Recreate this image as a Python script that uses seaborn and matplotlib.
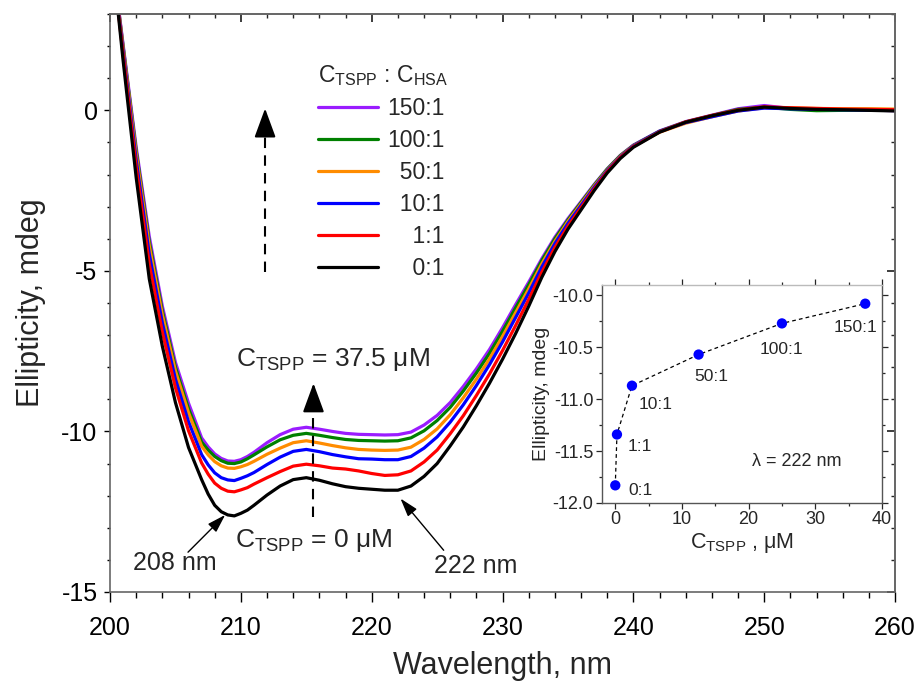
import numpy as np
import pandas as pd
import matplotlib
matplotlib.use("Agg")
import matplotlib.pyplot as plt
from matplotlib.lines import Line2D
from matplotlib.ticker import MultipleLocator, FormatStrFormatter
import seaborn as sns

sns.set_theme(style="ticks")
plt.rcParams["font.family"] = ["Liberation Sans", "DejaVu Sans"]
plt.rcParams["axes.unicode_minus"] = False
plt.rcParams["mathtext.fontset"] = "custom"
plt.rcParams["mathtext.rm"] = "Liberation Sans"
plt.rcParams["mathtext.it"] = "Liberation Sans:italic"

# ---------------- data ----------------
wavelength = [200.4, 201, 202, 203, 204, 205, 206, 207, 207.5, 208, 208.5, 209, 209.5, 210, 210.5,
              211, 212, 213, 214, 215, 216, 217, 218, 219, 220, 221, 222, 223, 224, 225, 226,
              227, 228, 229, 230, 231, 232, 233, 234, 235, 236, 237, 238, 239, 240, 242, 244,
              246, 248, 250, 252, 254, 256, 258, 260]

ratio_0 = [3.9, 1.55, -2.1, -5.25, -7.35, -9.1, -10.5, -11.5, -11.95, -12.3, -12.5, -12.6, -12.63,
           -12.55, -12.45, -12.3, -11.98, -11.7, -11.5, -11.44, -11.52, -11.63, -11.72, -11.77,
           -11.8, -11.83, -11.83, -11.7, -11.4, -11.0, -10.45, -9.86, -9.2, -8.5, -7.75, -6.95,
           -6.1, -5.2, -4.4, -3.7, -3.1, -2.5, -1.95, -1.5, -1.15, -0.68, -0.37, -0.17, 0.0,
           0.1, 0.06, 0.03, 0.02, 0.0, -0.02]
ratio_1 = [3.93, 1.73, -1.77, -4.79, -6.91, -8.64, -9.98, -10.98, -11.33, -11.61, -11.77, -11.86,
           -11.88, -11.82, -11.75, -11.64, -11.44, -11.25, -11.08, -11.02, -11.07, -11.14, -11.17,
           -11.23, -11.31, -11.37, -11.35, -11.23, -10.95, -10.58, -10.07, -9.51, -8.88, -8.21,
           -7.48, -6.7, -5.89, -5.04, -4.27, -3.61, -3.03, -2.45, -1.91, -1.47, -1.13, -0.67,
           -0.36, -0.16, 0.01, 0.11, 0.08, 0.06, 0.04, 0.03, 0.02]
ratio_10 = [3.96, 1.84, -1.55, -4.48, -6.62, -8.37, -9.7, -10.72, -11.04, -11.29, -11.44, -11.51,
            -11.53, -11.46, -11.38, -11.28, -11.03, -10.8, -10.62, -10.56, -10.63, -10.72, -10.79,
            -10.85, -10.86, -10.88, -10.88, -10.78, -10.52, -10.17, -9.71, -9.17, -8.57, -7.92,
            -7.21, -6.45, -5.69, -4.88, -4.15, -3.52, -2.96, -2.4, -1.88, -1.45, -1.11, -0.66,
            -0.38, -0.2, -0.02, 0.07, 0.05, 0.03, 0.02, 0.01, 0.0]
ratio_50 = [3.98, 1.94, -1.36, -4.22, -6.37, -8.12, -9.42, -10.46, -10.73, -10.94, -11.07, -11.14,
            -11.15, -11.1, -11.03, -10.93, -10.71, -10.52, -10.35, -10.29, -10.36, -10.44, -10.51,
            -10.56, -10.58, -10.59, -10.58, -10.49, -10.25, -9.92, -9.48, -8.95, -8.37, -7.74,
            -7.04, -6.3, -5.56, -4.78, -4.08, -3.46, -2.91, -2.36, -1.86, -1.43, -1.1, -0.68,
            -0.4, -0.2, -0.02, 0.08, 0.08, 0.06, 0.05, 0.05, 0.04]
ratio_100 = [3.99, 1.99, -1.26, -4.09, -6.25, -8.0, -9.29, -10.33, -10.58, -10.78, -10.91, -10.99,
             -11.0, -10.95, -10.85, -10.73, -10.48, -10.26, -10.12, -10.06, -10.12, -10.19, -10.25,
             -10.28, -10.29, -10.3, -10.29, -10.2, -9.98, -9.66, -9.25, -8.74, -8.18, -7.57,
             -6.88, -6.15, -5.43, -4.68, -4.0, -3.41, -2.87, -2.33, -1.83, -1.41, -1.09, -0.65,
             -0.36, -0.16, 0.03, 0.1, 0.03, -0.01, 0.0, 0.01, 0.01]
ratio_150 = [4.0, 2.05, -1.15, -3.93, -6.1, -7.85, -9.12, -10.2, -10.48, -10.7, -10.84, -10.92,
             -10.93, -10.88, -10.78, -10.65, -10.35, -10.1, -9.93, -9.87, -9.93, -10.0, -10.06,
             -10.09, -10.1, -10.11, -10.1, -10.02, -9.8, -9.5, -9.1, -8.6, -8.05, -7.45, -6.77,
             -6.05, -5.35, -4.62, -3.95, -3.37, -2.84, -2.31, -1.82, -1.4, -1.08, -0.64, -0.35,
             -0.15, 0.05, 0.15, 0.06, 0.03, 0.02, 0.01, -0.01]

ratio_labels = ["150:1", "100:1", "50:1", "10:1", "1:1", "0:1"]
ratio_colors = ["#9a1cff", "#008000", "#ff8c00", "#0000ff", "#ff0000", "#000000"]

# inset data (lambda = 222 nm)
c_tspp = [0.0, 0.25, 2.5, 12.5, 25.0, 37.5]
ell_222 = [-11.83, -11.34, -10.87, -10.57, -10.27, -10.08]
inset_labels = ["0:1", "1:1", "10:1", "50:1", "100:1", "150:1"]

# ---------------- build long table ----------------
series = {"150:1": ratio_150, "100:1": ratio_100, "50:1": ratio_50,
          "10:1": ratio_10, "1:1": ratio_1, "0:1": ratio_0}
frames = [pd.DataFrame({"Wavelength": wavelength, "Ellipticity": vals, "Ratio": name})
          for name, vals in series.items()]
df = pd.concat(frames, ignore_index=True)
palette = dict(zip(ratio_labels, ratio_colors))

# ---------------- figure ----------------
fig = plt.figure(figsize=(9.2, 6.81), dpi=100)
ax = fig.add_axes([0.1196, 0.1307, 0.8533, 0.8487])

sns.lineplot(data=df, x="Wavelength", y="Ellipticity", hue="Ratio",
             hue_order=ratio_labels, palette=palette, linewidth=2.3,
             estimator=None, sort=False, legend=False, ax=ax)

ax.set_xlim(200, 260)
ax.set_ylim(-15, 3)
ax.xaxis.set_major_locator(MultipleLocator(10))
ax.xaxis.set_minor_locator(MultipleLocator(2))
ax.yaxis.set_major_locator(MultipleLocator(5))
ax.yaxis.set_minor_locator(MultipleLocator(1))
ax.set_xlabel("Wavelength, nm", fontsize=22, labelpad=8)
ax.set_ylabel("Ellipticity, mdeg", fontsize=22, labelpad=11)
ax.tick_params(which="both", direction="out", labelsize=18, colors="#000000", width=1.0)
ax.tick_params(axis="x", which="major", length=7, pad=10)
ax.tick_params(axis="x", which="minor", length=4)
ax.tick_params(axis="y", which="major", length=4, pad=5)
ax.tick_params(axis="y", which="minor", length=2.5)
for s in ax.spines.values():
    s.set_color("#666666")
    s.set_linewidth(1.2)

# mirrored ticks on top / right pointing inward
secx = ax.secondary_xaxis("top")
secx.xaxis.set_major_locator(MultipleLocator(10))
secx.xaxis.set_minor_locator(MultipleLocator(2))
secx.tick_params(which="both", direction="in", labeltop=False)
secx.tick_params(which="major", length=6)
secx.tick_params(which="minor", length=3)
secx.spines["top"].set_color("#666666")
secy = ax.secondary_yaxis("right")
secy.yaxis.set_major_locator(MultipleLocator(5))
secy.yaxis.set_minor_locator(MultipleLocator(1))
secy.tick_params(which="both", direction="in", labelright=False)
secy.tick_params(which="major", length=6)
secy.tick_params(which="minor", length=3)
secy.spines["right"].set_color("#666666")

# legend
fs = "\u2007"
leg_texts = ["150:1", "100:1", fs + "50:1", fs + "10:1", fs + fs + "1:1", fs + fs + "0:1"]
handles = [Line2D([0], [0], color=c, lw=2.3) for c in ratio_colors]
leg = ax.legend(handles, leg_texts, loc="upper left", bbox_to_anchor=(0.265, 0.915),
                frameon=False, fontsize=16.5, handlelength=2.6, handletextpad=0.4,
                labelspacing=0.39, borderpad=0, borderaxespad=0,
                title=r"$\mathrm{C_{TSPP}}$ : $\mathrm{C_{HSA}}$", title_fontsize=16.5,
                alignment="left")

# dashed up-arrow next to legend
ax.plot([211.85, 211.85], [-5.04, -0.75], color="black", lw=1.5, linestyle=(0, (5, 3.5)))
ax.annotate("", xy=(211.85, 0.06), xytext=(211.85, -0.8),
            arrowprops=dict(arrowstyle="-|>,head_length=0.9,head_width=0.33",
                            mutation_scale=20, color="black", lw=1.5, shrinkA=0, shrinkB=0))

# dashed up-arrow through the curves
ax.plot([215.55, 215.55], [-12.67, -9.25], color="black", lw=1.5, linestyle=(0, (5, 3.5)))
ax.annotate("", xy=(215.55, -8.5), xytext=(215.55, -9.3),
            arrowprops=dict(arrowstyle="-|>,head_length=0.9,head_width=0.33",
                            mutation_scale=20, color="black", lw=1.5, shrinkA=0, shrinkB=0))

ax.text(209.6, -7.75, r"$\mathrm{C_{TSPP}}$ = 37.5 μM", fontsize=19, va="center", ha="left")
ax.text(209.55, -13.4, r"$\mathrm{C_{TSPP}}$ = 0 μM", fontsize=19, va="center", ha="left")

# peak labels with arrows
ax.text(204.97, -14.1, "208 nm", fontsize=18, ha="center", va="center")
ax.annotate("", xy=(208.8, -12.6), xytext=(205.96, -13.76),
            arrowprops=dict(arrowstyle="-|>,head_length=0.8,head_width=0.25",
                            mutation_scale=14, color="black", lw=1.0, shrinkA=0, shrinkB=0))
ax.text(227.98, -14.2, "222 nm", fontsize=18, ha="center", va="center")
ax.annotate("", xy=(222.2, -12.09), xytext=(225.5, -13.7),
            arrowprops=dict(arrowstyle="-|>,head_length=0.8,head_width=0.25",
                            mutation_scale=14, color="black", lw=1.0, shrinkA=0, shrinkB=0))

# ---------------- inset ----------------
axi = fig.add_axes([0.6543, 0.2614, 0.3043, 0.3201])
axi.set_facecolor("white")
sns.lineplot(x=c_tspp, y=ell_222, ax=axi, color="black", lw=0.9,
             linestyle=(0, (3, 2.5)), sort=False, estimator=None)
sns.scatterplot(x=c_tspp, y=ell_222, ax=axi, color="#0000ff", s=55,
                edgecolor="none", zorder=3)
offsets = [(1.9, -11.88), (1.9, -11.46), (3.45, -11.05), (11.8, -10.78),
           (21.6, -10.52), (32.7, -10.31)]
for lab, (tx, ty) in zip(inset_labels, offsets):
    axi.text(tx, ty, lab, fontsize=12.5, ha="left", va="center")
axi.text(20.5, -11.6, "λ = 222 nm", fontsize=13, ha="left", va="center")
axi.set_xlim(-2, 40)
axi.set_ylim(-12.0, -9.9)
axi.xaxis.set_major_locator(MultipleLocator(10))
axi.xaxis.set_minor_locator(MultipleLocator(5))
axi.yaxis.set_major_locator(MultipleLocator(0.5))
axi.yaxis.set_minor_locator(MultipleLocator(0.25))
axi.yaxis.set_major_formatter(FormatStrFormatter("%.1f"))
axi.tick_params(which="both", direction="out", labelsize=13, width=0.9,
                top=True, right=True, pad=2)
axi.tick_params(which="major", length=4)
axi.tick_params(which="minor", length=2)
axi.set_xlabel(r"$\mathrm{C_{TSPP}}$ , μM", fontsize=15.5, labelpad=2)
axi.set_ylabel("Ellipticity, mdeg", fontsize=14, labelpad=2)
for s in axi.spines.values():
    s.set_color("#555555")
    s.set_linewidth(1.0)
axi.spines["top"].set_color("#bbbbbb")

fig.savefig("out.png", dpi=100)
